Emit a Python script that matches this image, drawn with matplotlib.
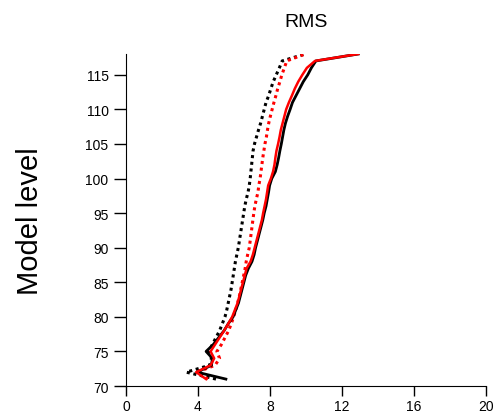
import numpy as np
import matplotlib
matplotlib.use("Agg")
import matplotlib.pyplot as plt

plt.rcParams['font.family'] = ['Liberation Sans', 'DejaVu Sans']

# model levels 71..118
levels = list(range(71, 119))

black_solid = [5.55, 3.95, 4.75, 4.8, 4.45, 4.85, 5.15, 5.45, 5.68, 5.95,
               6.1, 6.25, 6.35, 6.45, 6.55, 6.65, 6.8, 7.0, 7.12, 7.2,
               7.3, 7.4, 7.5, 7.6, 7.68, 7.78, 7.85, 7.92, 7.98, 8.1,
               8.3, 8.4, 8.48, 8.55, 8.63, 8.7, 8.77, 8.86, 8.98, 9.12,
               9.25, 9.45, 9.65, 9.85, 10.1, 10.3, 10.55, 12.9]

red_solid = [4.45, 3.9, 4.7, 4.9, 4.7, 4.95, 5.2, 5.45, 5.68, 5.9,
             6.05, 6.2, 6.3, 6.4, 6.5, 6.6, 6.7, 6.92, 7.05, 7.15,
             7.25, 7.35, 7.45, 7.55, 7.62, 7.7, 7.78, 7.84, 7.9, 8.05,
             8.17, 8.25, 8.3, 8.36, 8.45, 8.53, 8.6, 8.7, 8.8, 8.9,
             9.05, 9.22, 9.38, 9.57, 9.8, 10.05, 10.5, 12.9]

black_dotted = [5.0, 3.35, 4.65, 4.75, 4.6, 4.8, 5.0, 5.2, 5.35, 5.5,
                5.6, 5.68, 5.76, 5.84, 5.9, 5.96, 6.02, 6.08, 6.16, 6.24,
                6.3, 6.36, 6.42, 6.48, 6.54, 6.6, 6.68, 6.78, 6.85, 6.9,
                6.94, 6.98, 7.02, 7.06, 7.14, 7.25, 7.36, 7.48, 7.58, 7.68,
                7.78, 7.93, 8.05, 8.18, 8.35, 8.52, 8.68, 9.95]

red_dotted = [4.55, 3.95, 4.95, 5.2, 5.05, 5.3, 5.5, 5.7, 5.85, 5.98,
              6.1, 6.2, 6.3, 6.38, 6.46, 6.54, 6.62, 6.68, 6.76, 6.85,
              6.9, 6.95, 7.0, 7.05, 7.1, 7.16, 7.24, 7.33, 7.38, 7.45,
              7.5, 7.55, 7.6, 7.66, 7.72, 7.8, 7.86, 7.93, 8.02, 8.12,
              8.22, 8.33, 8.43, 8.55, 8.66, 8.8, 8.93, 9.95]

xticks = [0, 4, 8, 12, 16, 20]
yticks = [70, 75, 80, 85, 90, 95, 100, 105, 110, 115]

fig = plt.figure(figsize=(4.95, 4.14), dpi=100)
ax = fig.add_axes([0.2545, 0.0652, 0.7273, 0.8019])

ax.plot(black_dotted, levels, color='black', lw=2.2, linestyle=(0, (1, 1.2)))
ax.plot(red_dotted, levels, color='red', lw=2.2, linestyle=(0, (1, 1.2)))
ax.plot(black_solid, levels, color='black', lw=2)
ax.plot(red_solid, levels, color='red', lw=1.8)

ax.set_xlim(0, 20)
ax.set_ylim(70, 118)
ax.set_xticks(xticks)
ax.set_yticks(yticks)
ax.tick_params(axis='both', labelsize=10, direction='out', width=1)
ax.tick_params(axis='y', length=9)
ax.tick_params(axis='x', length=7, pad=2.5)
ax.spines['top'].set_visible(False)
ax.spines['right'].set_visible(False)

ax.set_title('RMS', fontsize=14, pad=20)
ax.set_ylabel('Model level', fontsize=21, labelpad=30)

fig.savefig('out.png', dpi=100)
